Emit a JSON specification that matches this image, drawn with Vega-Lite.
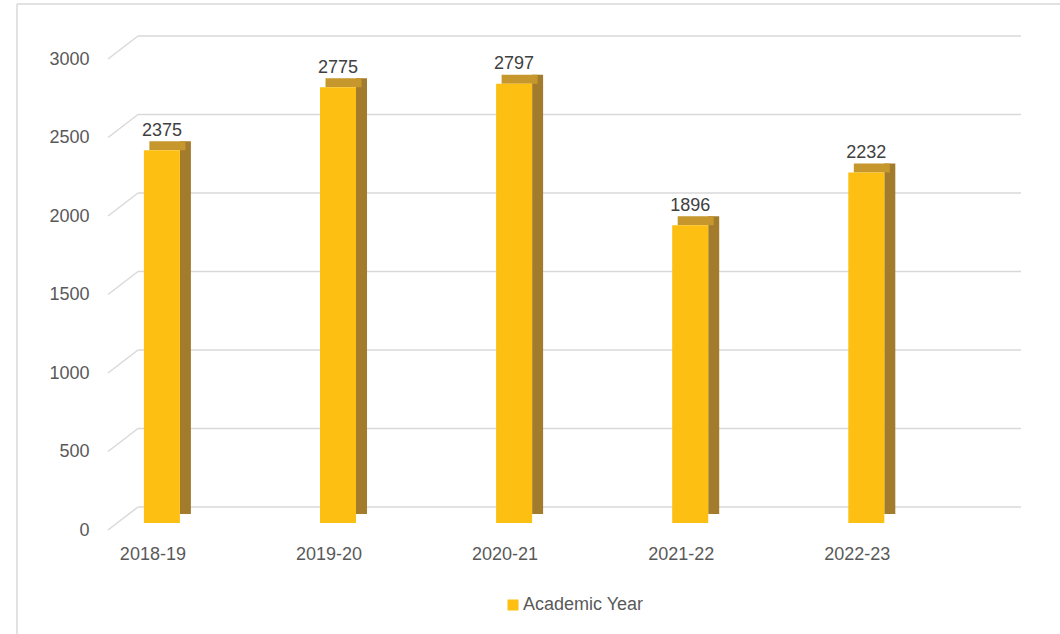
{
  "$schema": "https://vega.github.io/schema/vega-lite/v6.json",
  "width": 1043,
  "height": 630,
  "autosize": {"type": "none"},
  "padding": {"left": 17, "top": 4, "right": 0, "bottom": 0},
  "background": "white",
  "config": {
    "view": {"stroke": "#D9D9D9", "strokeWidth": 1.5, "strokeDash": [1043, 1673, 630, 0]},
    "font": "Liberation Sans"
  },
  "datasets": {
    "bars": [
      {"year": "2018-19", "value": 2375, "series": "Academic Year"},
      {"year": "2019-20", "value": 2775, "series": "Academic Year"},
      {"year": "2020-21", "value": 2797, "series": "Academic Year"},
      {"year": "2021-22", "value": 1896, "series": "Academic Year"},
      {"year": "2022-23", "value": 2232, "series": "Academic Year"}
    ],
    "grid": [
      {"v": 0}, {"v": 500}, {"v": 1000}, {"v": 1500}, {"v": 2000}, {"v": 2500}, {"v": 3000}
    ]
  },
  "layer": [
    {
      "data": {"name": "grid"},
      "mark": {"type": "rule", "color": "#D9D9D9", "strokeWidth": 1.5, "yOffset": -16, "y2Offset": -16},
      "encoding": {
        "x": {"value": 121},
        "x2": {"value": 1004},
        "y": {"field": "v", "type": "quantitative",
              "scale": {"domain": [0, 3000], "range": [519, 48], "nice": false, "zero": true},
              "axis": {"orient": "left", "offset": -91, "domain": false, "ticks": false, "tickSize": 0, "grid": false,
                       "labelPadding": 19, "labelOffset": 7, "labelFontSize": 18, "labelColor": "#595959",
                       "labelFont": "Liberation Sans", "title": null, "format": "d",
                       "values": [0, 500, 1000, 1500, 2000, 2500, 3000]}},
        "y2": {"field": "v"}
      }
    },
    {
      "data": {"name": "grid"},
      "mark": {"type": "rule", "color": "#D9D9D9", "strokeWidth": 1.5, "yOffset": 7, "y2Offset": -16},
      "encoding": {
        "x": {"value": 91},
        "x2": {"value": 121},
        "y": {"field": "v", "type": "quantitative"},
        "y2": {"field": "v"}
      }
    },
    {
      "data": {"name": "bars"},
      "mark": {"type": "bar", "color": "#A37B2D", "width": 11, "xOffset": 23.5, "yOffset": -9, "y2Offset": -4.5},
      "encoding": {
        "x": {"field": "year", "type": "nominal", "sort": null,
              "scale": {"range": [91, 1004], "paddingInner": 0.7955, "paddingOuter": 0.49, "align": 0.208},
              "axis": {"orient": "bottom", "offset": -111, "domain": false, "ticks": false, "tickSize": 0, "grid": false,
                       "labelPadding": 22, "labelOffset": -9, "labelFontSize": 18, "labelColor": "#595959",
                       "labelFont": "Liberation Sans", "labelAngle": 0, "title": null}},
        "y": {"field": "value", "type": "quantitative"}
      }
    },
    {
      "data": {"name": "bars"},
      "mark": {"type": "bar", "color": "#C6972C", "xOffset": 5.5, "yOffset": -9, "y2Offset": 0},
      "encoding": {
        "x": {"field": "year", "type": "nominal", "sort": null},
        "y": {"field": "value", "type": "quantitative"},
        "y2": {"field": "value"}
      }
    },
    {
      "data": {"name": "bars"},
      "mark": {"type": "bar"},
      "encoding": {
        "x": {"field": "year", "type": "nominal", "sort": null},
        "y": {"field": "value", "type": "quantitative"},
        "color": {"field": "series", "type": "nominal",
                  "scale": {"range": ["#FCBF12"]},
                  "legend": {"orient": "none", "legendX": 487, "legendY": 592, "title": null, "symbolType": "square",
                             "symbolSize": 121, "symbolStrokeWidth": 0, "labelFontSize": 18, "labelColor": "#595959",
                             "labelFont": "Liberation Sans", "padding": 0, "labelOffset": 1}}
      }
    },
    {
      "data": {"name": "bars"},
      "mark": {"type": "text", "baseline": "alphabetic", "dy": -14.5, "fontSize": 18, "color": "#404040", "font": "Liberation Sans"},
      "encoding": {
        "x": {"field": "year", "type": "nominal", "sort": null},
        "y": {"field": "value", "type": "quantitative"},
        "text": {"field": "value", "type": "quantitative", "format": "d"}
      }
    }
  ]
}
